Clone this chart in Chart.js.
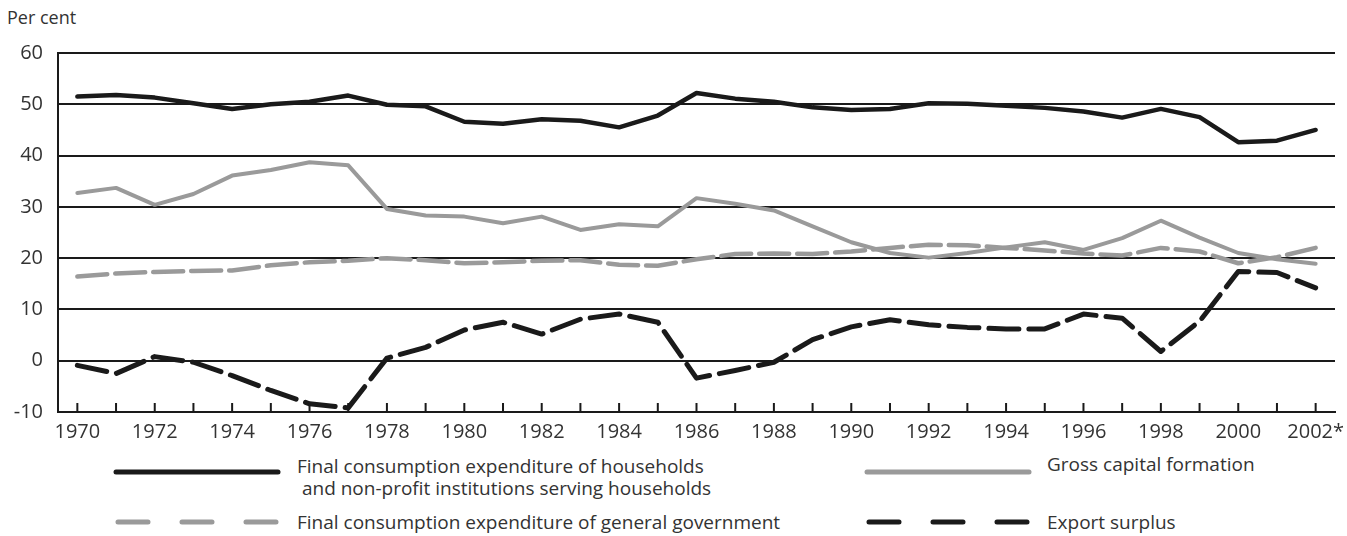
<!DOCTYPE html>
<html>
<head>
<meta charset="utf-8">
<script src="https://cdn.jsdelivr.net/npm/chart.js@4/dist/chart.umd.min.js"></script>
<style>
  body { margin: 0; background: #fff; font-family: "Open Sans", sans-serif; color: #333; }
  #wrap { position: relative; width: 1347px; height: 536px; }
  #chartBox { position: absolute; left: 0; top: 0; width: 1347px; height: 450px; }
  .txt { position: absolute; font-size: 19px; line-height: 22px; white-space: nowrap; }
  svg.key { position: absolute; }
</style>
</head>
<body>
<div id="wrap">
  <div class="txt" style="left:7px; top:6px; font-size:18px;">Per cent</div>
  <div id="chartBox"><canvas id="chart"></canvas></div>

  <svg class="key" style="left:110px; top:462px;" width="180" height="20">
    <line x1="6" y1="10" x2="168" y2="10" stroke="#1a1a1a" stroke-width="5" stroke-linecap="round"/>
  </svg>
  <div class="txt" style="left:297px; top:455px;">Final consumption expenditure of households<br>&nbsp;and non-profit institutions serving households</div>

  <svg class="key" style="left:861px; top:462px;" width="180" height="20">
    <line x1="6" y1="10" x2="168" y2="10" stroke="#9a9a9a" stroke-width="5" stroke-linecap="round"/>
  </svg>
  <div class="txt" style="left:1047px; top:453px;">Gross capital formation</div>

  <svg class="key" style="left:110px; top:512px;" width="180" height="20">
    <line x1="8" y1="10" x2="168" y2="10" stroke="#9a9a9a" stroke-width="5" stroke-linecap="round" stroke-dasharray="30 34"/>
  </svg>
  <div class="txt" style="left:297px; top:511px;">Final consumption expenditure of general government</div>

  <svg class="key" style="left:861px; top:512px;" width="180" height="20">
    <line x1="8" y1="10" x2="168" y2="10" stroke="#1a1a1a" stroke-width="5" stroke-linecap="round" stroke-dasharray="30 34"/>
  </svg>
  <div class="txt" style="left:1047px; top:511px;">Export surplus</div>
</div>

<script>
var years = ['1970','1971','1972','1973','1974','1975','1976','1977','1978','1979',
  '1980','1981','1982','1983','1984','1985','1986','1987','1988','1989',
  '1990','1991','1992','1993','1994','1995','1996','1997','1998','1999',
  '2000','2001','2002*'];

var households = [51.5, 51.8, 51.3, 50.2, 49.1, 50.0, 50.5, 51.7, 49.9, 49.6,
  46.6, 46.2, 47.1, 46.8, 45.5, 47.8, 52.2, 51.1, 50.5, 49.4,
  48.9, 49.1, 50.2, 50.1, 49.7, 49.3, 48.6, 47.4, 49.1, 47.5,
  42.6, 42.9, 45.0];

var capital = [32.7, 33.7, 30.4, 32.5, 36.1, 37.2, 38.7, 38.1, 29.6, 28.3,
  28.1, 26.8, 28.1, 25.5, 26.6, 26.2, 31.7, 30.6, 29.3, 26.2,
  23.1, 21.0, 20.1, 21.0, 22.1, 23.1, 21.6, 23.9, 27.3, 24.0,
  21.0, 19.8, 18.9];

var government = [16.4, 17.0, 17.3, 17.5, 17.6, 18.6, 19.2, 19.5, 20.0, 19.6,
  19.0, 19.2, 19.5, 19.6, 18.7, 18.5, 19.8, 20.8, 20.9, 20.8,
  21.3, 22.0, 22.6, 22.5, 22.0, 21.5, 20.9, 20.5, 22.0, 21.3,
  19.0, 20.2, 22.0];

var exportSurplus = [-0.9, -2.5, 0.8, -0.3, -2.9, -5.8, -8.4, -9.2, 0.5, 2.6,
  6.0, 7.5, 5.2, 8.1, 9.1, 7.5, -3.4, -1.9, -0.3, 4.1,
  6.6, 8.0, 7.0, 6.5, 6.2, 6.2, 9.1, 8.3, 1.8, 7.7,
  17.4, 17.2, 14.2];

var yTicks = [-10, 0, 10, 20, 30, 40, 50, 60];

var BLACK = '#1a1a1a';
var GREY = '#9a9a9a';

// tick marks on the x axis point up into the plot
var innerTicks = {
  id: 'innerTicks',
  afterDatasetsDraw: function(chart) {
    var x = chart.scales.x;
    var ctx = chart.ctx;
    ctx.save();
    ctx.strokeStyle = BLACK;
    ctx.lineWidth = 2;
    ctx.beginPath();
    x.ticks.forEach(function(tk, i) {
      var px = x.getPixelForTick(i);
      ctx.moveTo(px, x.top);
      ctx.lineTo(px, x.top - 9);
    });
    ctx.stroke();
    ctx.restore();
  }
};

function line(label, data, color, dash, width) {
  return {
    label: label,
    data: data,
    borderColor: color,
    borderWidth: width,
    borderDash: dash,
    borderCapStyle: 'round',
    borderJoinStyle: 'round',
    pointRadius: 0,
    tension: 0,
    fill: false
  };
}

new Chart(document.getElementById('chart').getContext('2d'), {
  type: 'line',
  data: {
    labels: years,
    datasets: [
      line('Final consumption expenditure of households and non-profit institutions serving households', households, BLACK, [], 4.5),
      line('Gross capital formation', capital, GREY, [], 4),
      line('Final consumption expenditure of general government', government, GREY, [30, 8], 4.5),
      line('Export surplus', exportSurplus, BLACK, [30, 10], 5)
    ]
  },
  options: {
    responsive: true,
    maintainAspectRatio: false,
    animation: false,
    layout: { padding: { top: 53, right: 12, left: 0, bottom: 0 } },
    plugins: { legend: { display: false }, tooltip: { enabled: false } },
    scales: {
      x: {
        offset: true,
        grid: { display: true, offset: false, drawOnChartArea: false, drawTicks: false },
        border: { display: true, color: BLACK, width: 2 },
        ticks: {
          autoSkip: false,
          maxRotation: 0,
          padding: 8,
          color: '#333',
          font: { family: 'Open Sans', size: 20 },
          callback: function(v, i) { return i % 2 === 0 ? years[i] : ''; }
        },
        afterFit: function(s) { s.height = 38; s.paddingLeft = 0; s.paddingRight = 0; }
      },
      y: {
        min: -10,
        max: 60,
        afterBuildTicks: function(s) { s.ticks = yTicks.map(function(v) { return { value: v }; }); },
        grid: { color: BLACK, lineWidth: 2, drawTicks: false },
        border: { display: true, color: BLACK, width: 2 },
        ticks: {
          padding: 15,
          color: '#333',
          font: { family: 'Open Sans', size: 20 }
        },
        afterFit: function(s) { s.width = 58; }
      }
    }
  },
  plugins: [innerTicks]
});
</script>
</body>
</html>
